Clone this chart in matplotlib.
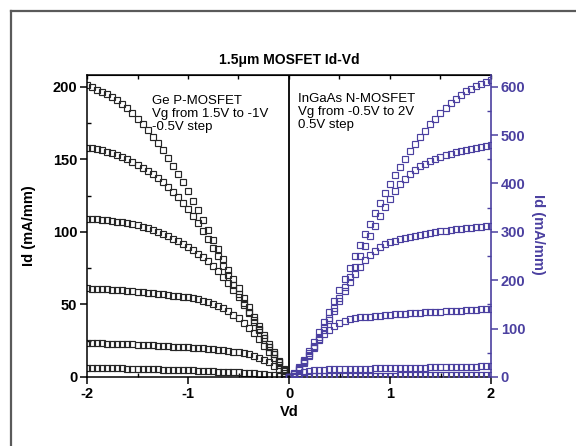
import numpy as np
import matplotlib.pyplot as plt
from matplotlib.lines import Line2D
from matplotlib.ticker import MultipleLocator

plt.rcParams['font.family'] = ['Liberation Sans', 'DejaVu Sans']
plt.rcParams['axes.unicode_minus'] = False

# Ge P-MOSFET, Vd sweep -2 V .. 0 V in 0.05 V steps, Id in mA/mm
vd_p = np.linspace(-2, 0, 41)
ge_vg = [-1.0, -0.5, 0.0, 0.5, 1.0, 1.5]
ge_id = [
    [201, 199.5, 198, 196.5, 195, 193, 191, 188, 185, 181.5, 178, 174, 170, 165.5,
     161, 156, 151, 145.5, 140, 134, 128, 121.5, 115, 108, 101, 94.5, 88, 81, 74,
     67.5, 61, 54.5, 48, 41.5, 35, 29, 23, 17, 11, 5.5, 0],
    [158, 157.5, 157, 156, 155, 154, 153, 151.5, 150, 148, 146, 144, 142, 139.5,
     137, 134, 131, 127.5, 124, 120, 116, 111, 106, 100.5, 95, 89, 83, 76.5, 70,
     63.5, 57, 51, 45, 39, 33, 27, 21, 15.5, 10, 5, 0],
    [109, 108.8, 108.5, 108.2, 108, 107.5, 107, 106.5, 106, 105.3, 104.5, 103.5,
     102.5, 101.3, 100, 98.5, 97, 95.3, 93.5, 91.5, 89.5, 87.3, 85, 82.5, 80, 76.7,
     73, 69, 65, 60, 55, 49.5, 44, 38, 32.5, 27, 21, 15.5, 10, 5, 0],
    [61, 60.9, 60.8, 60.6, 60.5, 60.2, 60, 59.8, 59.5, 59.1, 58.8, 58.4, 58, 57.6,
     57.3, 56.9, 56.5, 56.1, 55.8, 55.4, 55, 54.2, 53.5, 52.5, 51.5, 50.2, 48.8,
     47.2, 45.5, 43, 40.5, 37.5, 34, 30, 26, 21.5, 17, 12.8, 8.5, 4.2, 0],
    [23.5, 23.4, 23.3, 23.1, 23.0, 22.9, 22.8, 22.6, 22.5, 22.4, 22.2, 22.1, 22.0,
     21.8, 21.6, 21.4, 21.2, 21.0, 20.9, 20.7, 20.5, 20.3, 20.0, 19.8, 19.5, 19.1,
     18.8, 18.4, 18.0, 17.5, 17.0, 16.3, 15.5, 14.4, 13.2, 11.7, 10.0, 7.8, 5.4,
     2.8, 0],
    [6.5, 6.4, 6.4, 6.3, 6.2, 6.1, 6.0, 5.9, 5.8, 5.7, 5.6, 5.5, 5.4, 5.3, 5.2,
     5.1, 5.0, 4.9, 4.8, 4.7, 4.6, 4.5, 4.3, 4.2, 4.0, 3.9, 3.7, 3.6, 3.4, 3.2,
     3.1, 2.9, 2.7, 2.5, 2.3, 2.0, 1.6, 1.3, 0.9, 0.5, 0],
]

# InGaAs N-MOSFET, Vd sweep 0 V .. 2 V in 0.05 V steps
vd_n = np.linspace(0, 2, 41)
ingaas_vg = [2.0, 1.5, 1.0, 0.5, 0.0, -0.5]
ingaas_id = [
    [0, 7, 19, 35, 53, 72, 93, 114, 135, 157, 180, 203, 226, 249, 272, 295, 317,
     339, 360, 380, 399, 417, 434, 451, 467, 482, 496, 509, 522, 534, 545, 556,
     566, 575, 583, 590, 596, 601, 606, 610, 614],
    [0, 6, 16, 30, 46, 64, 83, 103, 122, 143, 164, 186, 207, 228, 250, 271, 292,
     313, 333, 351, 368, 384, 398, 410, 420, 428, 435, 441, 446, 450, 454, 458,
     461, 464, 467, 469, 472, 474, 476, 478, 480],
    [0, 6, 15, 28, 43, 60, 78, 97, 117, 137, 157, 177, 196, 213, 228, 241, 252,
     261, 268, 274, 278, 282, 285, 288, 290, 292, 294, 296, 298, 299, 301, 302,
     304, 305, 306, 307, 308, 309, 310, 311, 312],
    [0, 8, 20, 34, 49, 63, 76, 88, 98, 106, 112, 116, 119, 121, 123, 124, 125,
     126, 127, 128, 129, 129.5, 130, 131, 131.5, 132, 133, 133.5, 134, 134.5, 135,
     135.5, 136, 136.5, 137, 138, 138.5, 139, 139.5, 140, 141],
    [0, 3, 7, 10, 12, 13.5, 14.5, 15, 15.5, 15.8, 16, 16.3, 16.5, 16.8, 17, 17.2,
     17.4, 17.6, 17.8, 18, 18.2, 18.4, 18.6, 18.8, 19, 19.2, 19.4, 19.6, 19.8, 20,
     20.1, 20.3, 20.5, 20.7, 20.9, 21.1, 21.3, 21.5, 21.7, 21.9, 22],
    [0, 0.3, 0.6, 0.9, 1.1, 1.3, 1.5, 1.6, 1.7, 1.8, 1.9, 2.0, 2.1, 2.2, 2.3, 2.4,
     2.5, 2.6, 2.7, 2.8, 2.9, 3.0, 3.1, 3.2, 3.3, 3.4, 3.5, 3.6, 3.7, 3.8, 3.9,
     4.0, 4.1, 4.2, 4.3, 4.3, 4.4, 4.4, 4.5, 4.5, 4.6],
]

blue = '#4B40A0'
W, H = 576, 446

fig = plt.figure(figsize=(W / 100, H / 100), dpi=100)
fig.patch.set_facecolor('white')

# frame lines round the figure (top and left only)
fig.add_artist(Line2D([11 / W, 11 / W], [0, 1 - 11 / H], color='#5a5a5a', lw=1.6,
                      transform=fig.transFigure))
fig.add_artist(Line2D([11 / W, 1], [1 - 11 / H, 1 - 11 / H], color='#5a5a5a', lw=1.6,
                      transform=fig.transFigure))

ax = fig.add_axes([87 / W, 1 - 377 / H, (491 - 87) / W, (377 - 75) / H])
ax2 = ax.twinx()

for ids in ge_id:
    ax.plot(vd_p, ids, ls='none', marker='s', ms=3.9, mfc='none', mec='#262626',
            mew=0.85)
for ids in ingaas_id:
    ax2.plot(vd_n, ids, ls='none', marker='s', ms=3.9, mfc='none', mec=blue,
             mew=0.85)

ax.axvline(0, color='black', lw=1.3, zorder=0)

ax.set_xlim(-2, 2)
ax.set_ylim(0, 208)
ax2.set_ylim(0, 624)

ax.xaxis.set_major_locator(MultipleLocator(1))
ax.xaxis.set_minor_locator(MultipleLocator(0.5))
ax.yaxis.set_major_locator(MultipleLocator(50))
ax.yaxis.set_minor_locator(MultipleLocator(25))
ax2.yaxis.set_major_locator(MultipleLocator(100))
ax2.yaxis.set_minor_locator(MultipleLocator(50))

ax.tick_params(which='major', direction='out', length=5, width=1.1,
               labelsize=10.5, pad=2)
ax.tick_params(which='minor', direction='in', length=3, width=1)
ax2.tick_params(which='major', direction='out', length=5, width=1.1,
                labelsize=10.5, pad=2, colors=blue)
ax2.tick_params(which='minor', direction='in', length=3, width=1, colors=blue)

# inward ticks along the top edge
top = ax.secondary_xaxis('top')
top.xaxis.set_major_locator(MultipleLocator(0.5))
top.tick_params(direction='in', length=3, width=1, labeltop=False)

for lab in ax.get_xticklabels() + ax.get_yticklabels() + ax2.get_yticklabels():
    lab.set_fontweight('bold')

for s in ax.spines.values():
    s.set_linewidth(1.1)
ax.spines['right'].set_visible(False)
ax2.spines['right'].set_color(blue)
ax2.spines['right'].set_linewidth(1.2)
for side in ['left', 'top', 'bottom']:
    ax2.spines[side].set_visible(False)

fig.text(289 / W, 1 - 60 / H, '1.5\u03bcm MOSFET Id-Vd', ha='center', va='center',
         fontsize=10, fontweight='bold')
fig.text(289 / W, 1 - 412 / H, 'Vd', ha='center', va='center', fontsize=10.5,
         fontweight='bold')
fig.text(29 / W, 1 - 226 / H, 'Id (mA/mm)', ha='center', va='center',
         rotation=90, fontsize=10.5, fontweight='bold')
fig.text(538 / W, 1 - 234 / H, 'Id (mA/mm)', ha='center', va='center',
         rotation=270, fontsize=10.5, fontweight='bold', color=blue)

fig.text(152 / W, 1 - 95 / H, 'Ge P-MOSFET\nVg from 1.5V to -1V\n-0.5V step',
         ha='left', va='top', fontsize=9.5, linespacing=1.1)
fig.text(298 / W, 1 - 93 / H, 'InGaAs N-MOSFET\nVg from -0.5V to 2V\n0.5V step',
         ha='left', va='top', fontsize=9.5, linespacing=1.1)

fig.savefig('out.png', dpi=100)
